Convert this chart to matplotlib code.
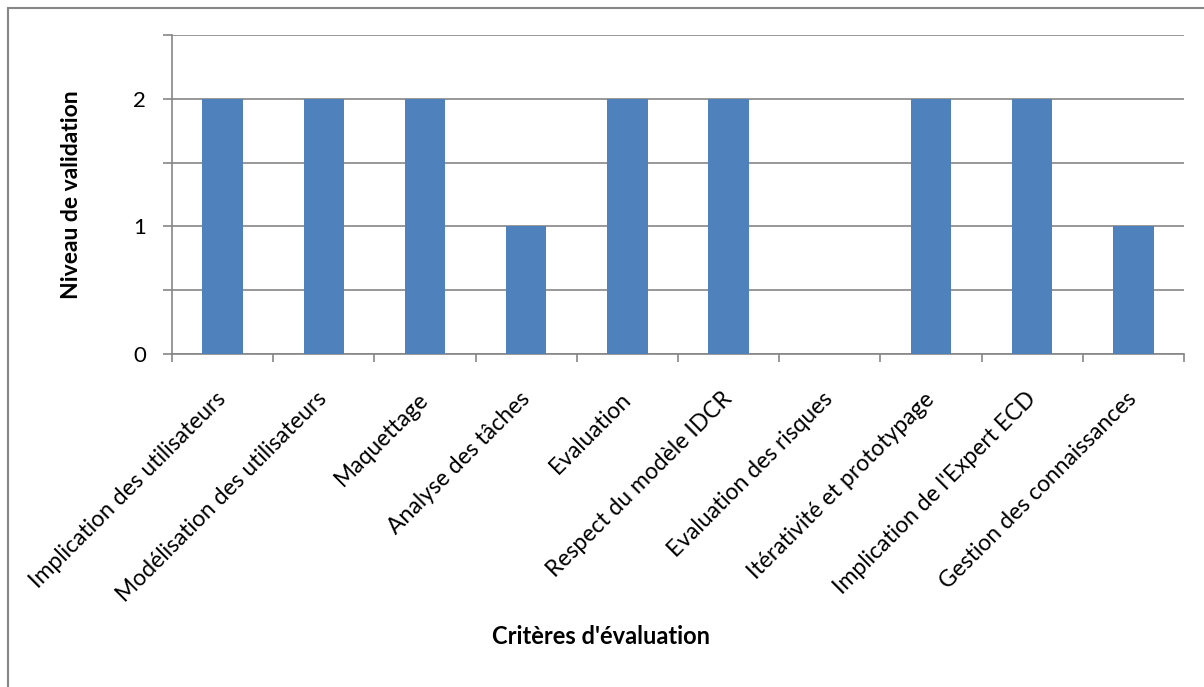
import matplotlib
matplotlib.use('Agg')
import numpy as np
from matplotlib import pyplot as plt
from matplotlib.patches import Rectangle

criteres = ['Implication des utilisateurs', 'Modélisation des utilisateurs', 'Maquettage',
            'Analyse des tâches', 'Evaluation', 'Respect du modèle IDCR', 'Evaluation des risques',
            'Itérativité et prototypage', "Implication de l'Expert ECD", 'Gestion des connaissances']
niveaux = [2, 2, 2, 1, 2, 2, 0, 2, 2, 1]

plt.rcParams['font.family'] = ['Lato', 'DejaVu Sans']

fig = plt.figure(figsize=(12.04, 6.87), dpi=100)
W, H = 1204, 687
ax = fig.add_axes([172 / W, 1 - 354 / H, (1184 - 172) / W, (354 - 35) / H])

x = np.arange(len(criteres))
ax.bar(x, niveaux, width=0.4, color='#4F81BD', zorder=3)

ax.set_xlim(-0.5, len(criteres) - 0.5)
ax.set_ylim(0, 2.5)

# grille toutes les 0.5, étiquettes seulement sur les entiers
ax.set_yticks(np.arange(0, 2.51, 0.5))
ax.set_yticklabels(['0', '', '1', '', '2', ''], fontsize=16)
ax.yaxis.grid(True, color='#868686', linewidth=1.2, zorder=0)
ax.tick_params(axis='y', length=6.5, width=1.2, color='#868686', pad=12)

ax.set_xticks(x)
ax.set_xticklabels(criteres, rotation=45, ha='right', va='center',
                   rotation_mode='anchor', fontsize=16.5)
ax.set_xticks(np.arange(-0.5, len(criteres)), minor=True)
ax.tick_params(axis='x', which='major', length=0, pad=30)
ax.tick_params(axis='x', which='minor', length=6, width=1.2, color='#868686')

for s in ['top', 'right']:
    ax.spines[s].set_visible(False)
for s in ['left', 'bottom']:
    ax.spines[s].set_color('#868686')
    ax.spines[s].set_linewidth(1.2)

fig.text(72 / W, 1 - 195 / H, 'Niveau de validation', rotation=90, ha='center', va='center',
         fontsize=16.5, fontweight='bold')
fig.text(601 / W, 1 - 637 / H, "Critères d'évaluation", ha='center', va='center',
         fontsize=17, fontweight='bold')

# cadre du graphique
fig.patches.append(Rectangle((8 / W, -0.1), 1.1, 1 - 8 / H + 0.1, transform=fig.transFigure,
                             fill=False, edgecolor='#868686', linewidth=1.5))

fig.savefig('out.png', dpi=100)
